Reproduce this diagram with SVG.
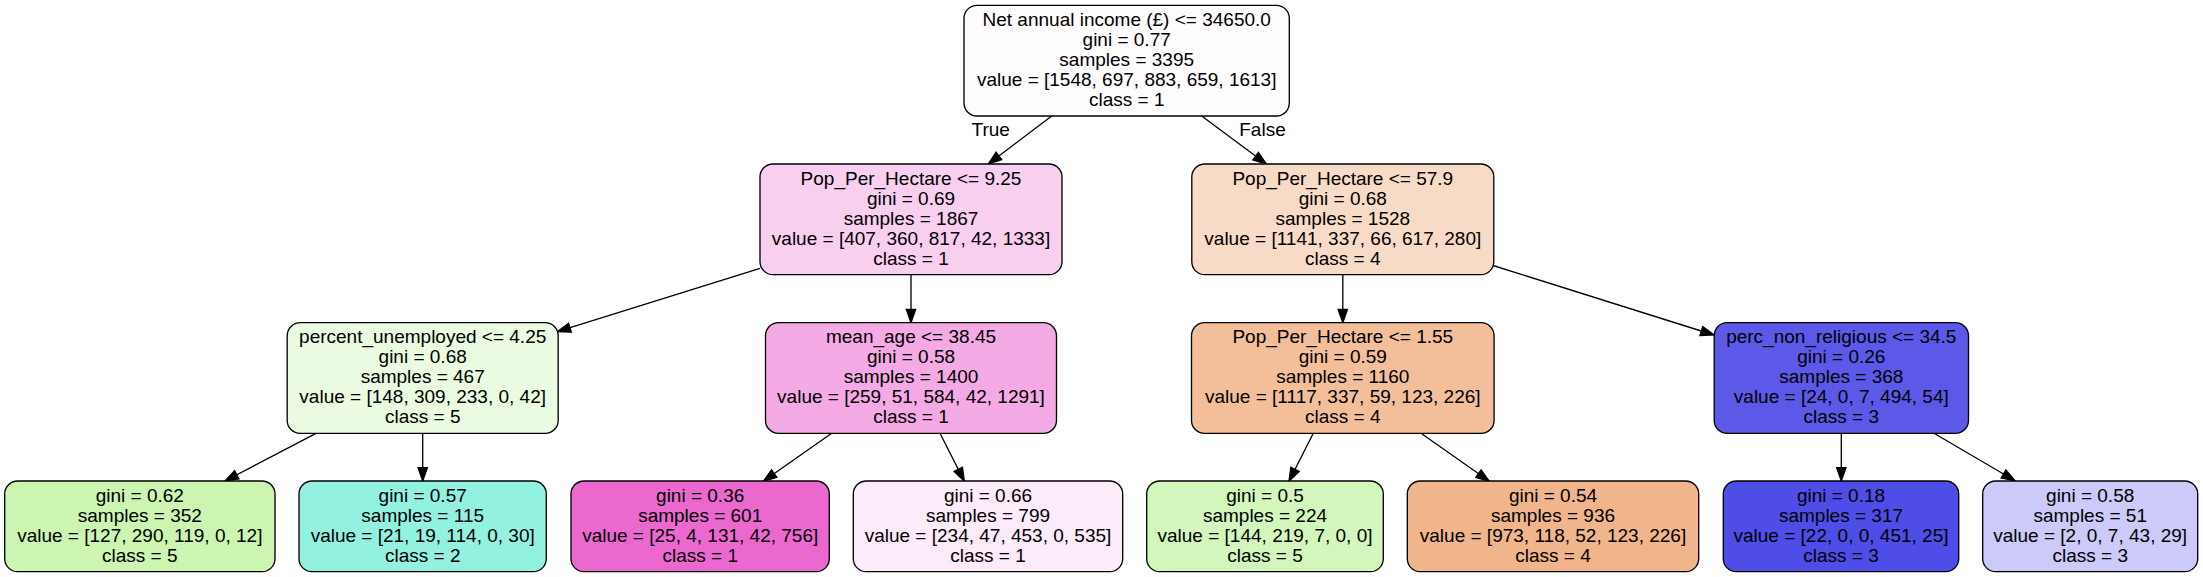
<svg xmlns="http://www.w3.org/2000/svg" width="2203" height="577" viewBox="0 0 2203 577">
<defs>
<style>
.n rect{stroke:#000;stroke-width:1.33}
text{font-family:"Liberation Sans",Arial,Helvetica,sans-serif;font-size:19px;fill:#000;text-anchor:middle}
.e line{stroke:#000;stroke-width:1.33;marker-end:url(#ah)}
</style>
<marker id="ah" markerUnits="userSpaceOnUse" markerWidth="15" markerHeight="11" refX="13.3" refY="4.67" orient="auto" overflow="visible">
<path d="M0,0 L13.3,4.67 L0,9.33 Z" fill="#000" stroke="#000" stroke-width="1.33"/>
</marker>
</defs>
<rect width="2203" height="577" fill="#fff"/>
<g id="edges" class="e">
<line x1="1051.7" y1="116" x2="988.3" y2="164"/>
<line x1="1201.7" y1="116" x2="1266.3" y2="164"/>
<line x1="760" y1="268.3" x2="557.3" y2="331.7"/>
<line x1="911" y1="274.7" x2="911" y2="322.7"/>
<line x1="1342.8" y1="274.7" x2="1342.8" y2="322.7"/>
<line x1="1493" y1="265.5" x2="1714" y2="335"/>
<line x1="316" y1="433.3" x2="225" y2="481"/>
<line x1="422.7" y1="433.3" x2="422.7" y2="481"/>
<line x1="831.7" y1="433.3" x2="763.3" y2="481.3"/>
<line x1="940" y1="433.3" x2="964.3" y2="481.3"/>
<line x1="1313.3" y1="433.3" x2="1289" y2="481.3"/>
<line x1="1421" y1="433.3" x2="1489.3" y2="481.3"/>
<line x1="1841.3" y1="433.3" x2="1841.3" y2="481"/>
<line x1="1934" y1="433.3" x2="2015" y2="480.7"/>
<text x="990.7" y="135.5">True</text>
<text x="1262.5" y="135.5">False</text>
</g>
<g id="n0" class="n">
<rect x="964" y="5.3" width="325.3" height="110.7" rx="13" fill="#fffcfe"/>
<text x="1126.7" y="26">Net annual income (£) &lt;= 34650.0</text>
<text x="1126.7" y="46">gini = 0.77</text>
<text x="1126.7" y="66">samples = 3395</text>
<text x="1126.7" y="86">value = [1548, 697, 883, 659, 1613]</text>
<text x="1126.7" y="106">class = 1</text>
</g>
<g id="n1" class="n">
<rect x="760" y="164" width="302" height="110.7" rx="13" fill="#f9cff0"/>
<text x="911" y="184.7">Pop_Per_Hectare &lt;= 9.25</text>
<text x="911" y="204.7">gini = 0.69</text>
<text x="911" y="224.7">samples = 1867</text>
<text x="911" y="244.7">value = [407, 360, 817, 42, 1333]</text>
<text x="911" y="264.7">class = 1</text>
</g>
<g id="n2" class="n">
<rect x="1191.8" y="164" width="302" height="110.7" rx="13" fill="#f8dbc6"/>
<text x="1342.8" y="184.7">Pop_Per_Hectare &lt;= 57.9</text>
<text x="1342.8" y="204.7">gini = 0.68</text>
<text x="1342.8" y="224.7">samples = 1528</text>
<text x="1342.8" y="244.7">value = [1141, 337, 66, 617, 280]</text>
<text x="1342.8" y="264.7">class = 4</text>
</g>
<g id="n3" class="n">
<rect x="287.2" y="322.7" width="271" height="110.7" rx="13" fill="#ebfbe1"/>
<text x="422.7" y="343.4">percent_unemployed &lt;= 4.25</text>
<text x="422.7" y="363.4">gini = 0.68</text>
<text x="422.7" y="383.4">samples = 467</text>
<text x="422.7" y="403.4">value = [148, 309, 233, 0, 42]</text>
<text x="422.7" y="423.4">class = 5</text>
</g>
<g id="n4" class="n">
<rect x="765.5" y="322.7" width="291" height="110.7" rx="13" fill="#f4aae4"/>
<text x="911" y="343.4">mean_age &lt;= 38.45</text>
<text x="911" y="363.4">gini = 0.58</text>
<text x="911" y="383.4">samples = 1400</text>
<text x="911" y="403.4">value = [259, 51, 584, 42, 1291]</text>
<text x="911" y="423.4">class = 1</text>
</g>
<g id="n5" class="n">
<rect x="1191.5" y="322.7" width="302.6" height="110.7" rx="13" fill="#f2bf9a"/>
<text x="1342.8" y="343.4">Pop_Per_Hectare &lt;= 1.55</text>
<text x="1342.8" y="363.4">gini = 0.59</text>
<text x="1342.8" y="383.4">samples = 1160</text>
<text x="1342.8" y="403.4">value = [1117, 337, 59, 123, 226]</text>
<text x="1342.8" y="423.4">class = 4</text>
</g>
<g id="n6" class="n">
<rect x="1714.2" y="322.7" width="254.3" height="110.7" rx="13" fill="#5c59e9"/>
<text x="1841.3" y="343.4">perc_non_religious &lt;= 34.5</text>
<text x="1841.3" y="363.4">gini = 0.26</text>
<text x="1841.3" y="383.4">samples = 368</text>
<text x="1841.3" y="403.4">value = [24, 0, 7, 494, 54]</text>
<text x="1841.3" y="423.4">class = 3</text>
</g>
<g id="n7" class="n">
<rect x="4.7" y="481" width="270.3" height="90.7" rx="13" fill="#ccf5b2"/>
<text x="139.8" y="501.7">gini = 0.62</text>
<text x="139.8" y="521.7">samples = 352</text>
<text x="139.8" y="541.7">value = [127, 290, 119, 0, 12]</text>
<text x="139.8" y="561.7">class = 5</text>
</g>
<g id="n8" class="n">
<rect x="299" y="481" width="247.3" height="90.7" rx="13" fill="#93f1df"/>
<text x="422.7" y="501.7">gini = 0.57</text>
<text x="422.7" y="521.7">samples = 115</text>
<text x="422.7" y="541.7">value = [21, 19, 114, 0, 30]</text>
<text x="422.7" y="561.7">class = 2</text>
</g>
<g id="n9" class="n">
<rect x="571" y="481" width="258.3" height="90.7" rx="13" fill="#eb69cf"/>
<text x="700.2" y="501.7">gini = 0.36</text>
<text x="700.2" y="521.7">samples = 601</text>
<text x="700.2" y="541.7">value = [25, 4, 131, 42, 756]</text>
<text x="700.2" y="561.7">class = 1</text>
</g>
<g id="n10" class="n">
<rect x="853.3" y="481" width="269.4" height="90.7" rx="13" fill="#fcebf9"/>
<text x="988" y="501.7">gini = 0.66</text>
<text x="988" y="521.7">samples = 799</text>
<text x="988" y="541.7">value = [234, 47, 453, 0, 535]</text>
<text x="988" y="561.7">class = 1</text>
</g>
<g id="n11" class="n">
<rect x="1146.7" y="481" width="236.6" height="90.7" rx="13" fill="#d3f6bd"/>
<text x="1265" y="501.7">gini = 0.5</text>
<text x="1265" y="521.7">samples = 224</text>
<text x="1265" y="541.7">value = [144, 219, 7, 0, 0]</text>
<text x="1265" y="561.7">class = 5</text>
</g>
<g id="n12" class="n">
<rect x="1407.3" y="481" width="291.4" height="90.7" rx="13" fill="#f0b58a"/>
<text x="1553" y="501.7">gini = 0.54</text>
<text x="1553" y="521.7">samples = 936</text>
<text x="1553" y="541.7">value = [973, 118, 52, 123, 226]</text>
<text x="1553" y="561.7">class = 4</text>
</g>
<g id="n13" class="n">
<rect x="1723.3" y="481" width="235.4" height="90.7" rx="13" fill="#4f4de8"/>
<text x="1841" y="501.7">gini = 0.18</text>
<text x="1841" y="521.7">samples = 317</text>
<text x="1841" y="541.7">value = [22, 0, 0, 451, 25]</text>
<text x="1841" y="561.7">class = 3</text>
</g>
<g id="n14" class="n">
<rect x="1982.7" y="481" width="215" height="90.7" rx="13" fill="#cbcaf8"/>
<text x="2090.2" y="501.7">gini = 0.58</text>
<text x="2090.2" y="521.7">samples = 51</text>
<text x="2090.2" y="541.7">value = [2, 0, 7, 43, 29]</text>
<text x="2090.2" y="561.7">class = 3</text>
</g>
</svg>
